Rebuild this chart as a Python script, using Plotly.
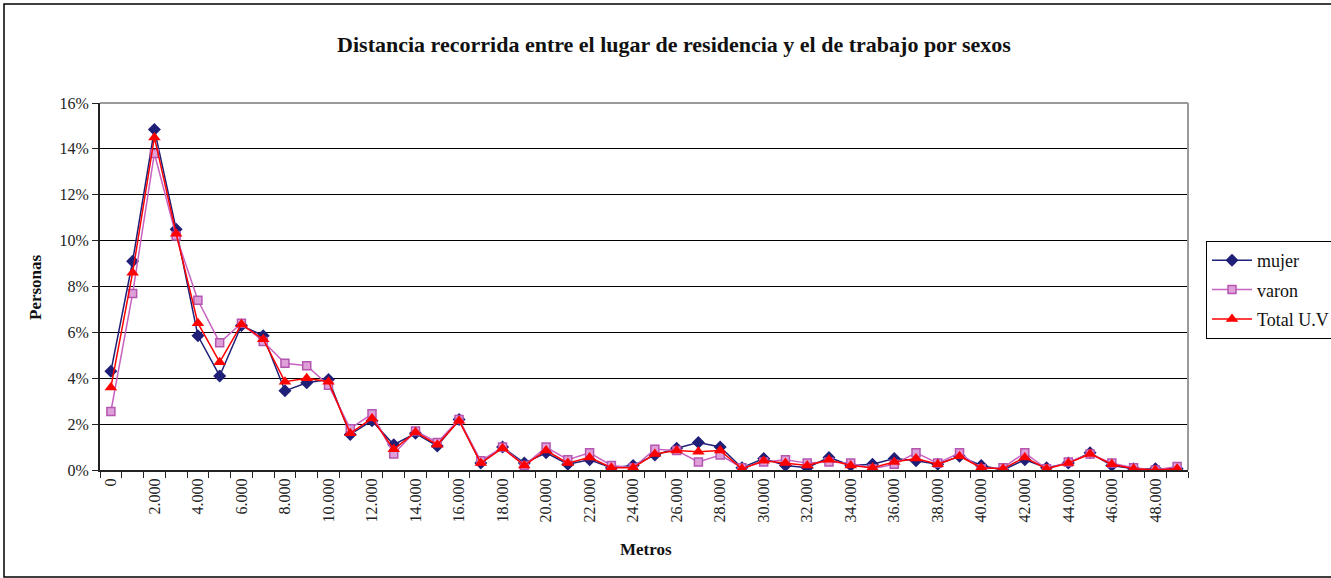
import plotly.graph_objects as go

categories = ["0", "1.000", "2.000", "3.000", "4.000", "5.000", "6.000", "7.000", "8.000", "9.000",
              "10.000", "11.000", "12.000", "13.000", "14.000", "15.000", "16.000", "17.000", "18.000", "19.000",
              "20.000", "21.000", "22.000", "23.000", "24.000", "25.000", "26.000", "27.000", "28.000", "29.000",
              "30.000", "31.000", "32.000", "33.000", "34.000", "35.000", "36.000", "37.000", "38.000", "39.000",
              "40.000", "41.000", "42.000", "43.000", "44.000", "45.000", "46.000", "47.000", "48.000", "49.000"]

tick_labels = ["0", "", "2.000", "", "4.000", "", "6.000", "", "8.000", "",
               "10.000", "", "12.000", "", "14.000", "", "16.000", "", "18.000", "",
               "20.000", "", "22.000", "", "24.000", "", "26.000", "", "28.000", "",
               "30.000", "", "32.000", "", "34.000", "", "36.000", "", "38.000", "",
               "40.000", "", "42.000", "", "44.000", "", "46.000", "", "48.000", ""]

mujer = [4.3, 9.1, 14.85, 10.5, 5.85, 4.1, 6.3, 5.85, 3.45, 3.8,
         3.95, 1.55, 2.15, 1.1, 1.6, 1.05, 2.2, 0.3, 1.0, 0.3,
         0.75, 0.25, 0.45, 0.1, 0.2, 0.65, 0.95, 1.2, 1.0, 0.1,
         0.5, 0.2, 0.1, 0.55, 0.2, 0.25, 0.5, 0.4, 0.25, 0.6,
         0.2, 0.0, 0.45, 0.1, 0.3, 0.75, 0.2, 0.05, 0.05, 0.05]

varon = [2.55, 7.7, 13.8, 10.2, 7.4, 5.55, 6.4, 5.6, 4.65, 4.55,
         3.7, 1.8, 2.45, 0.7, 1.7, 1.2, 2.2, 0.4, 1.0, 0.2,
         1.0, 0.45, 0.75, 0.2, 0.1, 0.9, 0.85, 0.35, 0.65, 0.1,
         0.35, 0.45, 0.3, 0.35, 0.3, 0.05, 0.25, 0.75, 0.3, 0.75,
         0.05, 0.1, 0.75, 0.05, 0.35, 0.7, 0.3, 0.1, 0.0, 0.15]

total = [3.6, 8.6, 14.5, 10.3, 6.4, 4.7, 6.35, 5.7, 3.85, 4.0,
         3.85, 1.6, 2.25, 0.9, 1.65, 1.1, 2.15, 0.3, 0.95, 0.2,
         0.85, 0.3, 0.55, 0.1, 0.1, 0.7, 0.85, 0.8, 0.85, 0.05,
         0.4, 0.3, 0.2, 0.45, 0.2, 0.1, 0.35, 0.5, 0.25, 0.6,
         0.1, 0.05, 0.55, 0.05, 0.3, 0.7, 0.25, 0.05, 0.0, 0.05]

SERIF = "Liberation Serif"
W, H = 1331, 578

fig = go.Figure()
fig.add_trace(go.Scatter(
    x=categories, y=mujer, name="mujer", mode="lines+markers", legendgroup="a",
    line=dict(color="#1F1F78", width=1.5),
    marker=dict(symbol="diamond", size=10, color="#1F1F78"),
))
fig.add_trace(go.Scatter(
    x=categories, y=varon, name="varon", mode="lines+markers", legendgroup="b",
    line=dict(color="#C862C0", width=1.5),
    marker=dict(symbol="square", size=8, color="#DFA0DA", line=dict(color="#B456B0", width=1.5)),
))
fig.add_trace(go.Scatter(
    x=categories, y=total, name="Total U.V", mode="lines+markers", legendgroup="c",
    line=dict(color="#FF0000", width=1.5),
    marker=dict(symbol="triangle-up", size=11, color="#FF0000"),
))

L, R, T, B = 100, 143, 103, 108
pw = W - L - R
ph = H - T - B

def px_x(p):
    return (p - L) / pw

def px_y(p):
    return (H - B - p) / ph

fig.update_layout(
    width=W, height=H,
    margin=dict(l=L, r=R, t=T, b=B),
    paper_bgcolor="white", plot_bgcolor="white",
    font=dict(family=SERIF, color="#222222"),
    title=dict(
        text="<b>Distancia recorrida entre el lugar de residencia y el de trabajo por sexos</b>",
        x=674 / W, xref="container", xanchor="center",
        y=1 - 44 / H, yref="container", yanchor="middle",
        font=dict(family=SERIF, size=22, color="#111111"),
    ),
    showlegend=True,
    legend=dict(
        x=1206 / W, y=1 - 241 / H, xref="container", yref="container",
        xanchor="left", yanchor="top",
        bordercolor="#000000", borderwidth=1, bgcolor="white",
        font=dict(family=SERIF, size=18, color="#111111"),
        tracegroupgap=3, itemwidth=40,
    ),
    xaxis=dict(
        type="category",
        tickmode="array", tickvals=categories, ticktext=tick_labels,
        tickson="boundaries", ticks="outside", ticklen=6, tickcolor="#222222",
        tickangle=-90,
        tickfont=dict(family=SERIF, size=16, color="#222222"),
        showgrid=False, showline=True, linecolor="#222222", linewidth=2,
        mirror=False, range=[-0.5, 49.5],
    ),
    yaxis=dict(
        range=[0, 16], tickmode="array", tickvals=[0, 2, 4, 6, 8, 10, 12, 14, 16],
        ticktext=["0%", "2%", "4%", "6%", "8%", "10%", "12%", "14%", "16%"],
        ticks="outside", ticklen=6, tickcolor="#222222",
        tickfont=dict(family=SERIF, size=16, color="#222222"),
        showgrid=True, gridcolor="#000000", gridwidth=1,
        showline=True, linecolor="#222222", linewidth=2,
        zeroline=False,
    ),
    annotations=[
        dict(text="<b>Personas</b>", xref="paper", yref="paper",
             x=px_x(35), y=px_y(287), xanchor="center", yanchor="middle",
             textangle=-90, showarrow=False,
             font=dict(family=SERIF, size=17, color="#111111")),
        dict(text="<b>Metros</b>", xref="paper", yref="paper",
             x=px_x(646), y=px_y(549), xanchor="center", yanchor="middle",
             showarrow=False,
             font=dict(family=SERIF, size=17, color="#111111")),
    ],
    shapes=[
        # outer chart border
        dict(type="rect", xref="paper", yref="paper",
             x0=px_x(4), x1=px_x(1345), y0=px_y(577), y1=px_y(4),
             line=dict(color="#000000", width=1.5), layer="below"),
        # top and right plot-area frame in gray
        dict(type="line", xref="paper", yref="paper", x0=0, x1=1, y0=1, y1=1,
             line=dict(color="#9A9A9A", width=2)),
        dict(type="line", xref="paper", yref="paper", x0=1, x1=1, y0=0, y1=1,
             line=dict(color="#9A9A9A", width=2)),
    ],
)

fig.write_html("out.html", config={"displayModeBar": False},
               post_script="document.body.style.margin='0';document.body.style.overflow='hidden';")
